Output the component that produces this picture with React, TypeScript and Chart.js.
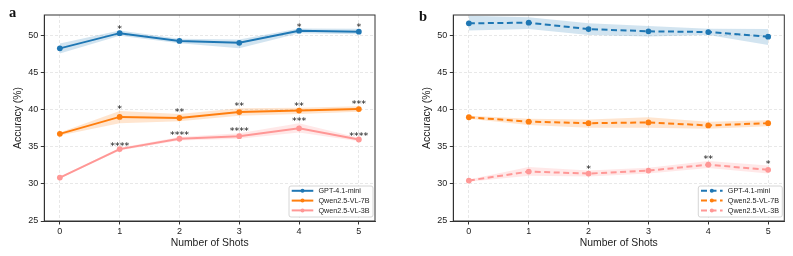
import React, { useEffect, useRef } from "react";
import { Chart, registerables } from "chart.js";
Chart.register(...registerables);

const shots = [0, 1, 2, 3, 4, 5];
const yTicks = [25, 30, 35, 40, 45, 50];
const seriesNames = ["GPT-4.1-mini", "Qwen2.5-VL-7B", "Qwen2.5-VL-3B"];
const seriesColors = ["#1f77b4", "#ff7f0e", "#ff9896"];
const bandColors = ["rgba(31,119,180,0.2)", "rgba(255,127,14,0.2)", "rgba(255,152,150,0.22)"];

// Panel a
const aGptMean = [48.3, 50.35, 49.3, 49.05, 50.68, 50.55];
const aGptLow = [47.6, 50.0, 49.0, 48.3, 50.35, 50.2];
const aGptHigh = [48.95, 50.7, 49.6, 49.5, 50.97, 50.95];
const aGptStars = ["", "*", "", "", "*", "*"];
const aQ7Mean = [36.76, 39.05, 38.9, 39.7, 39.9, 40.1];
const aQ7Low = [36.55, 38.2, 38.45, 39.2, 39.45, 39.75];
const aQ7High = [36.95, 39.85, 39.45, 40.2, 40.3, 40.5];
const aQ7Stars = ["", "*", "**", "**", "**", "***"];
const aQ3Mean = [30.86, 34.7, 36.1, 36.45, 37.5, 36.0];
const aQ3Low = [30.75, 34.5, 35.85, 36.1, 36.95, 35.75];
const aQ3High = [30.95, 34.9, 36.35, 36.85, 38.2, 36.25];
const aQ3Stars = ["", "****", "****", "****", "***", "****"];

// Panel b
const bGptMean = [51.68, 51.76, 50.9, 50.6, 50.5, 49.87];
const bGptLow = [50.7, 50.9, 50.1, 49.9, 50.1, 48.75];
const bGptHigh = [52.7, 52.5, 51.7, 51.3, 50.95, 50.9];
const bGptStars = ["", "", "", "", "", ""];
const bQ7Mean = [39.0, 38.4, 38.2, 38.3, 37.9, 38.2];
const bQ7Low = [38.8, 37.95, 37.6, 37.6, 37.45, 37.8];
const bQ7High = [39.2, 38.8, 38.7, 39.0, 38.4, 38.6];
const bQ7Stars = ["", "", "", "", "", ""];
const bQ3Mean = [30.46, 31.67, 31.4, 31.8, 32.6, 31.9];
const bQ3Low = [30.3, 31.1, 31.0, 31.4, 32.15, 31.4];
const bQ3High = [30.6, 32.3, 31.8, 32.2, 33.1, 32.5];
const bQ3Stars = ["", "", "*", "", "**", "*"];

const FONT = "'Liberation Sans', Arial, Helvetica, sans-serif";
const STAR_FONT = "'DejaVu Sans', sans-serif";

type PanelDef = {
  letter: string;
  means: number[][];
  lows: number[][];
  highs: number[][];
  stars: string[][];
  dashed: boolean;
  padLeft: number;
  padRight: number;
  letterX: number;
  letterY: number;
};

const panelA: PanelDef = {
  letter: "a",
  means: [aGptMean, aQ7Mean, aQ3Mean],
  lows: [aGptLow, aQ7Low, aQ3Low],
  highs: [aGptHigh, aQ7High, aQ3High],
  stars: [aGptStars, aQ7Stars, aQ3Stars],
  dashed: false,
  padLeft: 0,
  padRight: 21,
  letterX: 9,
  letterY: 16.5,
};

const panelB: PanelDef = {
  letter: "b",
  means: [bGptMean, bQ7Mean, bQ3Mean],
  lows: [bGptLow, bQ7Low, bQ3Low],
  highs: [bGptHigh, bQ7High, bQ3High],
  stars: [bGptStars, bQ7Stars, bQ3Stars],
  dashed: true,
  padLeft: 13,
  padRight: 8.7,
  letterX: 23,
  letterY: 20.5,
};

const DASH = [6, 3.5];

const decorPlugin = {
  id: "decor",
  afterDraw(chart: any, _args: any, opts: any) {
    const p: PanelDef = opts.panel;
    if (!p) return;
    const ctx = chart.ctx;
    const ca = chart.chartArea;
    const xs = chart.scales.x;
    const ys = chart.scales.y;
    ctx.save();
    // frame
    ctx.strokeStyle = "#333";
    ctx.lineWidth = 1;
    ctx.setLineDash([]);
    ctx.strokeRect(ca.left, ca.top, ca.right - ca.left, ca.bottom - ca.top);
    // stars
    ctx.fillStyle = "#111";
    ctx.font = `9.5px ${STAR_FONT}`;
    ctx.textAlign = "center";
    ctx.textBaseline = "alphabetic";
    p.stars.forEach((arr, si) => {
      arr.forEach((s, i) => {
        if (!s) return;
        const x = xs.getPixelForValue(shots[i]);
        const y = ys.getPixelForValue(p.highs[si][i]) - 4.5 + 0.59 * 9.5;
        ctx.fillText(s, x, y);
      });
    });
    // legend
    const bw = 84, bh = 31;
    const bx = ca.right - 2 - bw;
    const by = ca.bottom - 4 - bh;
    ctx.fillStyle = "rgba(255,255,255,0.85)";
    ctx.strokeStyle = "#cccccc";
    ctx.lineWidth = 0.8;
    ctx.beginPath();
    const r = 2;
    ctx.moveTo(bx + r, by);
    ctx.lineTo(bx + bw - r, by);
    ctx.arcTo(bx + bw, by, bx + bw, by + r, r);
    ctx.lineTo(bx + bw, by + bh - r);
    ctx.arcTo(bx + bw, by + bh, bx + bw - r, by + bh, r);
    ctx.lineTo(bx + r, by + bh);
    ctx.arcTo(bx, by + bh, bx, by + bh - r, r);
    ctx.lineTo(bx, by + r);
    ctx.arcTo(bx, by, bx + r, by, r);
    ctx.closePath();
    ctx.fill();
    ctx.stroke();
    seriesNames.forEach((name, i) => {
      const cy = by + 4.8 + i * 9.8;
      const x1 = bx + 2.7, x2 = bx + 24.3;
      ctx.strokeStyle = seriesColors[i];
      ctx.lineWidth = 2;
      ctx.setLineDash(p.dashed ? DASH : []);
      ctx.beginPath();
      ctx.moveTo(x1, cy);
      ctx.lineTo(x2, cy);
      ctx.stroke();
      ctx.setLineDash([]);
      ctx.fillStyle = seriesColors[i];
      ctx.beginPath();
      ctx.arc((x1 + x2) / 2, cy, 2, 0, Math.PI * 2);
      ctx.fill();
      ctx.fillStyle = "#222";
      ctx.font = `7.2px ${FONT}`;
      ctx.textAlign = "left";
      ctx.textBaseline = "middle";
      ctx.fillText(name, bx + 29.5, cy + 0.5);
    });
    // panel letter
    ctx.fillStyle = "#111";
    ctx.font = `bold 14.5px 'Liberation Serif', 'Times New Roman', serif`;
    ctx.textAlign = "left";
    ctx.textBaseline = "alphabetic";
    ctx.fillText(p.letter, p.letterX, p.letterY);
    ctx.restore();
  },
};

function buildConfig(p: PanelDef): any {
  const datasets: any[] = [];
  p.means.forEach((mean, si) => {
    datasets.push({
      label: "_low" + si,
      data: shots.map((x, i) => ({ x, y: p.lows[si][i] })),
      borderWidth: 0,
      borderColor: "rgba(0,0,0,0)",
      pointRadius: 0,
      fill: false,
    });
    datasets.push({
      label: "_high" + si,
      data: shots.map((x, i) => ({ x, y: p.highs[si][i] })),
      borderWidth: 0,
      borderColor: "rgba(0,0,0,0)",
      pointRadius: 0,
      backgroundColor: bandColors[si],
      fill: "-1",
    });
    datasets.push({
      label: seriesNames[si],
      data: shots.map((x, i) => ({ x, y: mean[i] })),
      borderColor: seriesColors[si],
      backgroundColor: seriesColors[si],
      borderWidth: 2,
      borderDash: p.dashed ? DASH : [],
      pointRadius: 2.9,
      pointBorderWidth: 0,
      pointBackgroundColor: seriesColors[si],
      fill: false,
      tension: 0,
    });
  });
  return {
    type: "line",
    data: { datasets },
    options: {
      animation: false,
      responsive: false,
      devicePixelRatio: 1,
      layout: { padding: { left: p.padLeft, right: p.padRight, top: 15, bottom: 0 } },
      plugins: {
        legend: { display: false },
        tooltip: { enabled: false },
        decor: { panel: p },
      },
      scales: {
        x: {
          type: "linear",
          min: -0.26,
          max: 5.27,
          afterBuildTicks: (s: any) => {
            s.ticks = shots.map((v) => ({ value: v }));
          },
          afterFit: (s: any) => {
            s.height = 35;
          },
          ticks: { color: "#222", font: { size: 9, family: FONT }, padding: 1.5, maxRotation: 0 },
          grid: { color: "#e2e2e2", lineWidth: 0.8, tickLength: 3.5, tickColor: "#333", tickWidth: 1, tickBorderDash: [] },
          border: { display: true, color: "#333", width: 1, dash: [3, 2] },
          title: {
            display: true,
            text: "Number of Shots",
            color: "#222",
            font: { size: 10.4, family: FONT },
            padding: { top: 0, bottom: 6.4 },
          },
        },
        y: {
          type: "linear",
          min: 25,
          max: 52.8,
          afterBuildTicks: (s: any) => {
            s.ticks = yTicks.map((v) => ({ value: v }));
          },
          afterFit: (s: any) => {
            s.width = 44.3;
          },
          ticks: { color: "#222", font: { size: 9, family: FONT }, padding: 2.5 },
          grid: { color: "#e2e2e2", lineWidth: 0.8, tickLength: 3.5, tickColor: "#333", tickWidth: 1, tickBorderDash: [] },
          border: { display: true, color: "#333", width: 1, dash: [3, 2] },
          title: {
            display: true,
            text: "Accuracy (%)",
            color: "#222",
            font: { size: 10.4, family: FONT },
            padding: { top: 11.8, bottom: 0 },
          },
        },
      },
    },
    plugins: [decorPlugin],
  };
}

function Panel({ def, left, width }: { def: PanelDef; left: number; width: number }) {
  const ref = useRef<HTMLCanvasElement>(null);
  useEffect(() => {
    if (!ref.current) return;
    const chart = new Chart(ref.current, buildConfig(def));
    return () => chart.destroy();
  }, [def]);
  return (
    <canvas
      ref={ref}
      width={width}
      height={256}
      style={{ position: "absolute", left, top: 0, width, height: 256 }}
    />
  );
}

export default function App() {
  return (
    <div style={{ position: "absolute", left: 0, top: 0, width: 793, height: 256, background: "#fff", overflow: "hidden" }}>
      <Panel def={panelA} left={0} width={396} />
      <Panel def={panelB} left={396} width={397} />
    </div>
  );
}
